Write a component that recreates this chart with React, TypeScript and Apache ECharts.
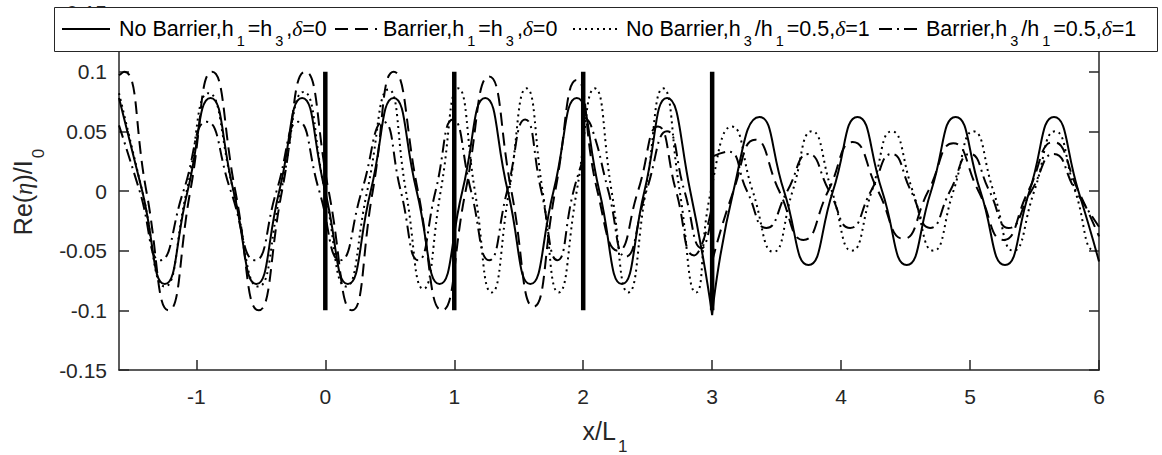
import React, { useEffect, useRef } from 'react';
import * as echarts from 'echarts';

// ---------- data ----------
const xTicks = [-1, 0, 1, 2, 3, 4, 5, 6];
const xRange = [-1.6, 6];
const yRange = [-0.15, 0.15];
const yStep = 0.05;
const barrierX = [0, 1, 2, 3];
const barrierSpan = [-0.1, 0.1];

// No Barrier, h1=h3, delta=0 (solid)
const noBarrierFlat: (number | null)[][] = [
  [-1.6, 0.078], [-1.42, 0], [-1.245, -0.078], [-1.068, 0], [-0.89, 0.078], [-0.712, 0],
  [-0.535, -0.078], [-0.357, 0], [-0.18, 0.078], [-0.002, 0], [0.175, -0.078], [0.352, 0],
  [0.53, 0.078], [0.708, 0], [0.886, -0.078], [1.063, 0], [1.24, 0.078], [1.415, 0],
  [1.59, -0.078], [1.77, 0], [1.95, 0.078], [2.125, 0], [2.3, -0.078], [2.475, 0],
  [2.65, 0.078], [2.83, 0], [3.0, -0.104], [3.0, null], [3.0, -0.104], [3.165, 0],
  [3.367, 0.062], [3.557, 0], [3.747, -0.062], [3.937, 0], [4.127, 0.062], [4.318, 0],
  [4.509, -0.062], [4.698, 0], [4.888, 0.062], [5.08, 0], [5.271, -0.062], [5.461, 0],
  [5.651, 0.062], [5.84, 0], [6.0, -0.059],
];

// Barrier, h1=h3, delta=0 (dashed)
const barrierFlat: (number | null)[][] = [
  [-1.6, 0.097], [-1.56, 0.1], [-1.388, 0], [-1.215, -0.1], [-1.047, 0], [-0.878, 0.1],
  [-0.698, 0], [-0.517, -0.1], [-0.336, 0], [-0.155, 0.1], [0.026, 0], [0.207, -0.1],
  [0.368, 0], [0.53, 0.1], [0.718, 0], [0.905, -0.1], [1.088, 0], [1.27, 0.096],
  [1.443, 0], [1.615, -0.097], [1.783, 0], [1.95, 0.093], [2.11, 0], [2.27, -0.05],
  [2.425, 0], [2.58, 0.054], [2.72, 0], [2.86, -0.054], [2.995, -0.015], [3.0, null],
  [3.0, -0.059], [3.165, 0], [3.333, 0.043], [3.52, 0], [3.708, -0.041], [3.9, 0],
  [4.09, 0.041], [4.287, 0], [4.483, -0.04], [4.676, 0], [4.87, 0.04], [5.065, 0],
  [5.259, -0.041], [5.452, 0], [5.646, 0.041], [5.84, 0], [6.0, -0.038],
];

// No Barrier, h3/h1=0.5, delta=1 (dotted)
const noBarrierStep: (number | null)[][] = [
  [-1.6, 0.082], [-1.42, 0], [-1.245, -0.08], [-1.075, 0], [-0.905, 0.082], [-0.712, 0],
  [-0.52, -0.08], [-0.344, 0], [-0.168, 0.083], [-0.004, 0], [0.16, -0.08], [0.325, 0],
  [0.49, 0.085], [0.625, 0], [0.76, -0.082], [0.895, 0], [1.03, 0.086], [1.16, 0],
  [1.29, -0.085], [1.425, 0], [1.56, 0.086], [1.685, 0], [1.81, -0.085], [1.95, 0],
  [2.09, 0.086], [2.22, 0], [2.35, -0.085], [2.485, 0], [2.62, 0.086], [2.748, 0],
  [2.875, -0.085], [2.99, 0], [3.153, 0.054], [3.314, 0], [3.475, -0.051], [3.624, 0],
  [3.773, 0.05], [3.928, 0], [4.083, -0.05], [4.238, 0], [4.393, 0.05], [4.555, 0],
  [4.716, -0.05], [4.871, 0], [5.026, 0.05], [5.181, 0], [5.336, -0.05], [5.498, 0],
  [5.659, 0.05], [5.815, 0], [5.97, -0.05], [6.0, -0.048],
];

// Barrier, h3/h1=0.5, delta=1 (dash-dot)
const barrierStep: (number | null)[][] = [
  [-1.6, 0.055], [-1.44, 0], [-1.28, -0.058], [-1.1, 0], [-0.92, 0.058], [-0.733, 0],
  [-0.545, -0.058], [-0.378, 0], [-0.21, 0.058], [-0.047, 0], [0.116, -0.058], [0.283, 0],
  [0.45, 0.058], [0.585, 0], [0.72, -0.058], [0.855, 0], [0.99, 0.06], [1.13, 0],
  [1.27, -0.058], [1.41, 0], [1.55, 0.06], [1.675, 0], [1.8, -0.058], [1.925, 0],
  [1.995, 0.025], [2.0, null], [2.005, 0.062], [2.06, 0.055], [2.195, 0], [2.33, -0.055],
  [2.49, 0], [2.65, 0.05], [2.785, 0], [2.92, -0.048], [2.995, -0.02], [3.0, null],
  [3.005, 0.029], [3.12, 0.033], [3.27, 0], [3.42, -0.031], [3.583, 0], [3.746, 0.031],
  [3.908, 0], [4.07, -0.031], [4.232, 0], [4.393, 0.031], [4.542, 0], [4.69, -0.031],
  [4.845, 0], [5.0, 0.031], [5.15, 0], [5.3, -0.031], [5.475, 0], [5.65, 0.031],
  [5.82, 0], [6.0, -0.03],
];

const seriesNames = [
  'No Barrier,h1=h3,δ=0',
  'Barrier,h1=h3,δ=0',
  'No Barrier,h3/h1=0.5,δ=1',
  'Barrier,h3/h1=0.5,δ=1',
];
const legendRich = [
  'No Barrier,h{s|1}=h{s|3},{i|δ}=0',
  'Barrier,h{s|1}=h{s|3},{i|δ}=0',
  'No Barrier,h{s|3}/h{s|1}=0.5,{i|δ}=1',
  'Barrier,h{s|3}/h{s|1}=0.5,{i|δ}=1',
];

// ---------- styles ----------
const FONT = '"Liberation Sans", Arial, Helvetica, sans-serif';
const SERIF = '"Liberation Serif", "DejaVu Serif", serif';
const AX = '#262626';
const DASHES: (string | number[])[] = ['solid', [13, 7], [2, 4], [13, 5, 2, 5]];
const curveData = [noBarrierFlat, barrierFlat, noBarrierStep, barrierStep];

export default function App() {
  const ref = useRef<HTMLDivElement>(null);
  useEffect(() => {
    document.body.style.margin = '0';
    if (!ref.current) return;
    const chart = echarts.init(ref.current, undefined, { renderer: 'svg' });

    const curves = curveData.map((d, i) => ({
      type: 'line',
      name: seriesNames[i],
      data: d,
      xAxisIndex: 0,
      yAxisIndex: 0,
      symbol: 'none',
      showSymbol: false,
      smooth: 0.55,
      connectNulls: false,
      clip: true,
      silent: true,
      lineStyle: { color: '#000', width: 2, type: DASHES[i], cap: 'butt' },
      z: 2 + i,
    }));

    const bars = barrierX.map((bx) => ({
      type: 'line',
      name: 'barrier' + bx,
      data: barrierSpan.map((v) => [bx, v]),
      symbol: 'none',
      silent: true,
      lineStyle: { color: '#000', width: 4.5, cap: 'butt' },
      z: 10,
    }));

    const subStyle = { fontSize: 14.5, lineHeight: 15, padding: [24, 3, 0, 3], fill: '#000', fontFamily: FONT };
    const itStyle = { fontStyle: 'italic', fontSize: 21.5, fill: '#000', fontFamily: SERIF };

    const legendLines = [
      { x1: 62, x2: 110 },
      { x1: 335, x2: 377 },
      { x1: 573, x2: 620 },
      { x1: 879, x2: 920 },
    ];
    const legendTextX = [119, 383, 626, 926];

    const graphic: any[] = [
      {
        type: 'rect', z: 100,
        shape: { x: 54.5, y: 7.5, width: 1103, height: 44 },
        style: { fill: '#fff', stroke: AX, lineWidth: 1 },
      },
    ];
    legendLines.forEach((l, i) => {
      graphic.push({
        type: 'line', z: 101,
        shape: { x1: l.x1, y1: 29, x2: l.x2, y2: 29 },
        style: {
          stroke: '#000', lineWidth: 2,
          lineDash: DASHES[i] === 'solid' ? null : DASHES[i],
          lineCap: 'butt',
        },
      });
      graphic.push({
        type: 'text', z: 101, x: legendTextX[i], y: 29,
        style: {
          text: legendRich[i],
          fontSize: 21.5, lineHeight: 24, fontFamily: FONT, fill: '#000',
          textAlign: 'left', textVerticalAlign: 'middle', verticalAlign: 'middle',
          rich: { s: subStyle, i: itStyle },
        },
      });
    });
    // axis titles
    const titleSub = { fontSize: 17, lineHeight: 17, padding: [30, 2, 0, 2], fill: AX, fontFamily: FONT };
    graphic.push({
      type: 'text', z: 101, x: 23, y: 191, rotation: Math.PI / 2,
      style: {
        text: 'Re({i|η})/I{s|0}',
        fontSize: 25, lineHeight: 28, fontFamily: FONT, fill: AX,
        textAlign: 'center', textVerticalAlign: 'middle', verticalAlign: 'middle',
        rich: {
          s: titleSub,
          i: { fontStyle: 'italic', fontSize: 25, fill: AX, fontFamily: SERIF },
        },
      },
    });
    graphic.push({
      type: 'text', z: 101, x: 606, y: 431,
      style: {
        text: 'x/L{s|1}',
        fontSize: 25, lineHeight: 28, fontFamily: FONT, fill: AX,
        textAlign: 'center', textVerticalAlign: 'middle', verticalAlign: 'middle',
        rich: { s: titleSub },
      },
    });

    const axisLine = { show: true, onZero: false, lineStyle: { color: AX, width: 1.5 } };
    const tickStyle = { color: AX, width: 1.5 };

    chart.setOption({
      animation: false,
      grid: { left: 119, right: 63, top: 12, bottom: 85, containLabel: false },
      xAxis: [
        {
          type: 'value', min: xRange[0], max: xRange[1], position: 'bottom',
          axisLine,
          axisTick: { show: true, inside: true, length: 10, customValues: xTicks, lineStyle: tickStyle },
          axisLabel: { show: true, customValues: xTicks, fontSize: 21, color: AX, margin: 16, fontFamily: FONT },
          splitLine: { show: false },
        },
        {
          type: 'value', min: xRange[0], max: xRange[1], position: 'top',
          axisLine,
          axisTick: { show: true, inside: true, length: 10, customValues: xTicks, lineStyle: tickStyle },
          axisLabel: { show: false },
          splitLine: { show: false },
        },
      ],
      yAxis: [
        {
          type: 'value', min: yRange[0], max: yRange[1], interval: yStep, position: 'left',
          axisLine,
          axisTick: { show: true, inside: true, length: 10, lineStyle: tickStyle },
          axisLabel: { show: true, fontSize: 21, color: AX, margin: 12, fontFamily: FONT },
          splitLine: { show: false },
        },
        {
          type: 'value', min: yRange[0], max: yRange[1], interval: yStep, position: 'right',
          axisLine,
          axisTick: { show: true, inside: true, length: 10, lineStyle: tickStyle },
          axisLabel: { show: false },
          splitLine: { show: false },
        },
      ],
      series: [...curves, ...bars],
      graphic,
    });
    return () => chart.dispose();
  }, []);
  return <div ref={ref} style={{ width: 1162, height: 455 }} />;
}
